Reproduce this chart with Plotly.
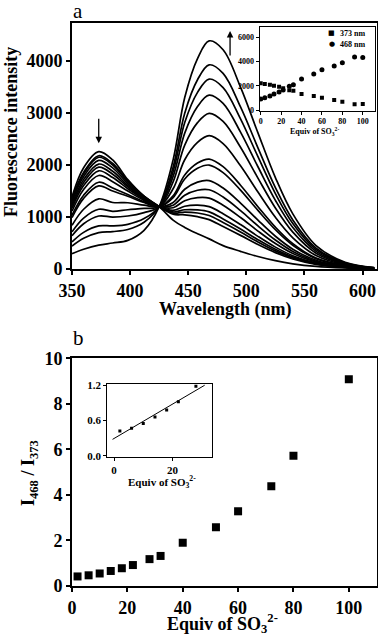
import numpy as np
import plotly.graph_objects as go

# panel a: emission spectra (one list per SO3 2- addition)
wavelength = [350, 360, 373, 385, 398, 412, 425, 437, 447, 458, 468,
              480, 495, 510, 525, 540, 560, 585, 610]

spectra = [
    [1390, 1950, 2260, 2100, 1720, 1400, 1200, 940, 800, 680, 580, 450, 340, 240, 160, 100, 50, 20, 5],
    [1350, 1860, 2180, 2030, 1690, 1400, 1200, 1053, 1043, 1007, 950, 816, 647, 471, 315, 193, 89, 31, 7],
    [1330, 1830, 2150, 2000, 1675, 1390, 1200, 1077, 1095, 1078, 1030, 895, 713, 521, 349, 213, 97, 33, 7],
    [1295, 1780, 2090, 1945, 1645, 1378, 1200, 1098, 1140, 1138, 1100, 963, 770, 564, 378, 231, 104, 35, 8],
    [1250, 1720, 2020, 1880, 1610, 1364, 1200, 1129, 1208, 1229, 1200, 1065, 855, 628, 421, 256, 115, 38, 8],
    [1215, 1665, 1960, 1825, 1580, 1352, 1200, 1179, 1315, 1374, 1365, 1227, 991, 730, 490, 298, 132, 43, 9],
    [1170, 1605, 1890, 1760, 1545, 1338, 1200, 1228, 1420, 1516, 1525, 1385, 1124, 830, 557, 338, 149, 47, 10],
    [1115, 1530, 1800, 1680, 1500, 1320, 1200, 1281, 1535, 1671, 1700, 1558, 1269, 940, 630, 382, 168, 52, 11],
    [1035, 1420, 1670, 1560, 1435, 1294, 1200, 1373, 1733, 1937, 2000, 1856, 1519, 1128, 757, 458, 199, 61, 12],
    [990, 1360, 1600, 1500, 1400, 1280, 1200, 1407, 1808, 2038, 2115, 1969, 1613, 1199, 805, 487, 211, 64, 13],
    [840, 1150, 1350, 1280, 1275, 1230, 1200, 1544, 2103, 2436, 2565, 2414, 1986, 1480, 994, 600, 258, 77, 15],
    [715, 980, 1150, 1110, 1140, 1165, 1200, 1675, 2385, 2817, 2996, 2840, 2343, 1749, 1174, 709, 304, 90, 18],
    [640, 870, 1020, 1000, 1020, 1085, 1200, 1782, 2615, 3127, 3346, 3187, 2634, 1968, 1322, 797, 340, 100, 20],
    [520, 705, 830, 830, 860, 970, 1200, 1876, 2818, 3400, 3655, 3492, 2890, 2161, 1451, 875, 373, 109, 21],
    [440, 590, 700, 720, 760, 900, 1200, 1960, 2998, 3642, 3929, 3764, 3118, 2332, 1566, 944, 402, 117, 23],
    [294, 380, 460, 500, 551, 745, 1200, 2100, 3300, 4050, 4390, 4220, 3500, 2620, 1760, 1060, 450, 130, 25],
]

# inset of panel a: intensity at 373 / 468 nm vs equiv
equiv_a = [0, 4, 9, 13, 18, 22, 28, 32, 40, 52, 60, 72, 80, 92, 100]
i373 = [2200, 2150, 2090, 2010, 1930, 1800, 1640, 1580, 1330, 1150, 1020, 830, 690, 470, 490]
i468 = [900, 1020, 1160, 1320, 1490, 1650, 1960, 2090, 2560, 2980, 3320, 3640, 3900, 4370, 4330]
series_names = ["373 nm", "468 nm"]

# panel b: ratio I468/I373
equiv_b = [2, 6, 10, 14, 18, 22, 28, 32, 40, 52, 60, 72, 80, 100]
ratio_b = [0.42, 0.47, 0.55, 0.66, 0.78, 0.92, 1.18, 1.32, 1.90, 2.58, 3.28, 4.38, 5.72, 9.08]
n_linear = 7            # points used in the inset fit
fit_span = [-0.5, 31]   # extent of the fitted line

W, H = 378, 637
SERIF = "Liberation Serif"


def px(x):
    return x / W


def py(y):
    return 1 - y / H


def font(size, bold=True):
    return dict(family=SERIF, size=size, color="black", weight="bold" if bold else "normal")


fig = go.Figure()

for s in spectra:
    fig.add_trace(go.Scatter(x=wavelength, y=s, mode="lines", line_shape="spline",
                             line=dict(color="black", width=1.7), showlegend=False,
                             xaxis="x", yaxis="y"))

fig.add_trace(go.Scatter(x=equiv_a, y=i373, mode="markers", name=series_names[0], showlegend=False,
                         marker=dict(symbol="square", size=4, color="black"),
                         xaxis="x3", yaxis="y3"))
fig.add_trace(go.Scatter(x=equiv_a, y=i468, mode="markers", name=series_names[1], showlegend=False,
                         marker=dict(symbol="circle", size=5, color="black"),
                         xaxis="x3", yaxis="y3"))

fig.add_trace(go.Scatter(x=equiv_b, y=ratio_b, mode="markers", showlegend=False,
                         marker=dict(symbol="square", size=8, color="black"),
                         xaxis="x2", yaxis="y2"))

# inset b: linear part + least squares line
lin_x = equiv_b[:n_linear]
lin_y = ratio_b[:n_linear]
slope, icpt = np.polyfit(lin_x, lin_y, 1)
fit_y = [slope * v + icpt for v in fit_span]
fig.add_trace(go.Scatter(x=lin_x, y=lin_y, mode="markers", showlegend=False,
                         marker=dict(symbol="square", size=3, color="black"),
                         xaxis="x4", yaxis="y4"))
fig.add_trace(go.Scatter(x=fit_span, y=fit_y, mode="lines", showlegend=False,
                         line=dict(color="black", width=1),
                         xaxis="x4", yaxis="y4"))

main_ax = dict(showgrid=False, zeroline=False, showline=True, linecolor="black",
               linewidth=2, mirror=True, ticks="outside", ticklen=4, tickwidth=2,
               tickcolor="black", tickfont=font(18), automargin=False)
inset_ax = dict(showgrid=False, zeroline=False, showline=True, linecolor="black",
                linewidth=1, mirror=True, ticks="outside", ticklen=3, tickwidth=1,
                tickcolor="black", automargin=False)

fig.update_layout(
    width=W, height=H, margin=dict(l=0, r=0, t=0, b=0, autoexpand=False),
    paper_bgcolor="white", plot_bgcolor="white", showlegend=False,
    xaxis=dict(main_ax, domain=[px(72), px(376.5)], range=[350, 612], dtick=50, anchor="y"),
    yaxis=dict(main_ax, domain=[py(269), py(22.7)], range=[0, 4740], dtick=1000, anchor="x"),
    xaxis2=dict(main_ax, domain=[px(72), px(376.5)], range=[0, 110], dtick=20, anchor="y2"),
    yaxis2=dict(main_ax, domain=[py(586), py(358.3)], range=[0, 10], dtick=2, anchor="x2"),
    xaxis3=dict(inset_ax, domain=[px(259.5), px(375)], range=[-1.2, 112], dtick=20,
                anchor="y3", tickfont=font(8)),
    yaxis3=dict(inset_ax, domain=[py(110.5), py(27)], range=[-40, 6850], dtick=2000,
                anchor="x3", tickfont=font(8)),
    xaxis4=dict(inset_ax, domain=[px(107.3), px(211.7)], range=[-2.3, 33.4], dtick=20,
                anchor="y4", tickfont=font(11)),
    yaxis4=dict(inset_ax, domain=[py(457), py(384)], range=[-0.02, 1.22], dtick=0.6,
                tickformat=".1f", anchor="x4", tickfont=font(11)),
)

notes = [
    dict(text="a", x=px(78), y=py(11), font=font(21, bold=False)),
    dict(text="b", x=px(78), y=py(338), font=font(21, bold=False)),
    dict(text="Fluorescence intensity", x=px(11), y=py(132), textangle=-90, font=font(18)),
    dict(text="Wavelength (nm)", x=px(225), y=py(309), font=font(18)),
    dict(text="I<sub>468</sub> / I<sub>373</sub>", x=px(29), y=py(473), textangle=-90, font=font(18)),
    dict(text="Equiv of SO<sub>3</sub><sup>2-</sup>", x=px(222), y=py(623.5), font=font(18)),
    dict(text="Equiv of SO<sub>3</sub><sup>2-</sup>", x=px(314), y=py(131), font=font(8)),
    dict(text="Equiv of SO<sub>3</sub><sup>2-</sup>", x=px(162), y=py(482), font=font(11)),
    # legend of the inset: key glyph + label
    dict(text="\u25a0", x=px(331.5), y=py(33), font=dict(family="DejaVu Sans", size=7, color="black")),
    dict(text="\u25cf", x=px(331.5), y=py(44), font=dict(family="DejaVu Sans", size=7, color="black")),
]
for n in notes:
    fig.add_annotation(xref="paper", yref="paper", showarrow=False,
                       xanchor="center", yanchor="middle", **n)

for name, yy in zip(series_names, [33, 44]):
    fig.add_annotation(xref="paper", yref="paper", showarrow=False, text=name,
                       x=px(338), y=py(yy), xanchor="left", yanchor="middle", font=font(8))

# arrows marking decrease at 373 nm and increase at 468 nm
fig.add_annotation(x=373, y=2420, xref="x", yref="y", ax=0, ay=-26, text="",
                   showarrow=True, arrowhead=2, arrowsize=1, arrowwidth=1.3, arrowcolor="black")
fig.add_annotation(x=486, y=4580, xref="x", yref="y", ax=0, ay=26, text="",
                   showarrow=True, arrowhead=2, arrowsize=1, arrowwidth=1.3, arrowcolor="black")

fig.write_html("out.html", config={"displayModeBar": False},
               post_script="document.body.style.margin='0';")
